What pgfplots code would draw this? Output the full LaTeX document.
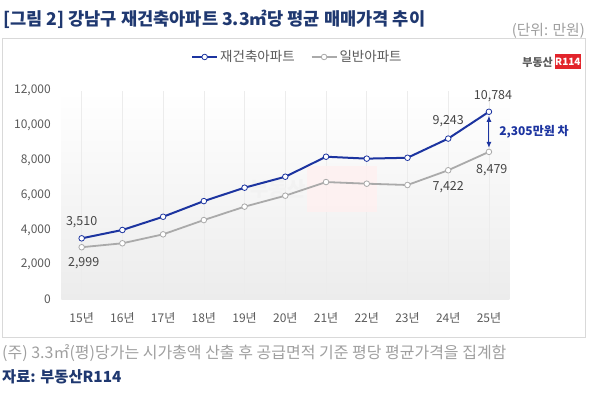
\documentclass[border=0pt]{standalone}
\usepackage{fontspec}
\setmainfont{Noto Sans CJK KR}
\usepackage{pgfplots}
\pgfplotsset{compat=1.18}
\usetikzlibrary{arrows.meta}
\definecolor{navy}{RGB}{31,56,112}
\definecolor{bline}{RGB}{28,52,160}
\definecolor{gline}{RGB}{170,170,170}
\definecolor{txt}{RGB}{70,70,70}
\definecolor{tick}{RGB}{90,90,90}
\definecolor{r114}{RGB}{226,36,43}
\begin{document}
\begin{tikzpicture}[x=1pt,y=1pt]
\path[use as bounding box] (0,0) rectangle (590,-412);
% title
\node[anchor=west,text=navy,font=\fontsize{17.6}{20}\selectfont\bfseries,inner sep=0] at (3,-19) {[그림 2] 강남구 재건축아파트 3.3㎡당 평균 매매가격 추이};
\node[anchor=east,text=gray!75,font=\fontsize{14.8}{16}\selectfont,inner sep=0] at (585,-31) {(단위: 만원)};
% frame
\draw[gray!30,line width=0.8pt] (2,-38) rectangle (585,-337);
% logo
\node[anchor=east,text=black!65,font=\fontsize{11}{12}\selectfont\bfseries,inner sep=0] at (553,-62) {부동산};
\node[anchor=west,fill=r114,text=white,font=\fontsize{10}{11}\selectfont\bfseries,inner sep=0pt,minimum height=15pt,minimum width=25pt] at (555,-62) {R114};
\begin{axis}[
  at={(61.3pt,-299.4pt)}, anchor=south west,
  scale only axis, width=448pt, height=208.8pt,
  xmin=-0.5, xmax=10.5, ymin=0, ymax=12000,
  axis line style={draw=none},
  major tick length=0pt,
  xtick={0,...,10},
  xticklabels={15년,16년,17년,18년,19년,20년,21년,22년,23년,24년,25년},
  ytick={0,2000,...,12000},
  scaled y ticks=false,
  yticklabel style={/pgf/number format/1000 sep={,},/pgf/number format/assume math mode=true,xshift=-7pt},
  ticklabel style={text=tick,font=\fontsize{12}{14}\selectfont},
  xticklabel style={yshift=-10pt},
  xmajorgrids, grid style={gray!15,line width=0.6pt},
  axis background/.style={shade,top color=white,bottom color={rgb,255:red,236;green,236;blue,236}},
  legend columns=2,
  legend style={at={(axis description cs:0.527,1.161)},anchor=center,draw=none,fill=none,
    font=\fontsize{13.5}{15}\selectfont,text=tick,
    /tikz/every odd column/.append style={column sep=0pt},
    /tikz/every even column/.append style={column sep=14pt},
    inner sep=0pt},
  legend image code/.code={\draw[mark repeat=2,mark phase=2,#1] plot coordinates {(0pt,0pt) (12.5pt,0pt) (25pt,0pt)};},
  clip=false,
]
% faint centre watermark
\fill[red!6,opacity=0.8] (axis cs:5.53,7640) rectangle (axis cs:7.25,5040);
\node[text=gray!10,font=\fontsize{20}{22}\selectfont\bfseries,inner sep=0,anchor=east] at (axis cs:5.5,6350) {부동산};
\addplot[bline,line width=2pt,mark=*,mark size=2.8pt,mark options={fill=white,draw=bline,line width=0.8pt}] coordinates {
(0,3510)(1,3990)(2,4750)(3,5650)(4,6420)(5,7050)(6,8200)(7,8090)(8,8140)(9,9243)(10,10784)};
\addlegendentry{재건축아파트}
\addplot[gline,line width=1.8pt,mark=*,mark size=2.8pt,mark options={fill=white,draw=gline,line width=0.8pt}] coordinates {
(0,2999)(1,3225)(2,3740)(3,4560)(4,5330)(5,5960)(6,6745)(7,6650)(8,6575)(9,7422)(10,8479)};
\addlegendentry{일반아파트}
\draw[{Latex[length=6pt,width=5pt]}-{Latex[length=6pt,width=5pt]},bline,line width=1pt,shorten >=4pt,shorten <=4pt] (axis cs:10,10784) -- (axis cs:10,8479);
\begin{scope}[every node/.style={text=txt,font=\fontsize{12.5}{14}\selectfont,inner sep=0}]
\node at (axis cs:0,3510) [yshift=16pt] {3,510};
\node at (axis cs:0.05,2999) [yshift=-15.5pt] {2,999};
\node at (axis cs:9,9243) [yshift=17pt] {9,243};
\node at (axis cs:10.1,10784) [yshift=16pt] {10,784};
\node at (axis cs:9,7422) [yshift=-17pt] {7,422};
\node at (axis cs:10.07,8479) [yshift=-18pt] {8,479};
\end{scope}
\node[anchor=west,text=bline,font=\fontsize{12}{14}\selectfont\bfseries,inner sep=0] at (axis cs:10.25,9650) {2,305만원 차};
\end{axis}
% footer
\node[anchor=west,text=gray!75,font=\fontsize{16}{18}\selectfont,inner sep=0] at (2,-353) {(주) 3.3㎡(평)당가는 시가총액 산출 후 공급면적 기준 평당 평균가격을 집계함};
\node[anchor=west,text=navy,font=\fontsize{15.3}{17}\selectfont\bfseries,inner sep=0] at (2,-377) {자료: 부동산R114};
\end{tikzpicture}
\end{document}
